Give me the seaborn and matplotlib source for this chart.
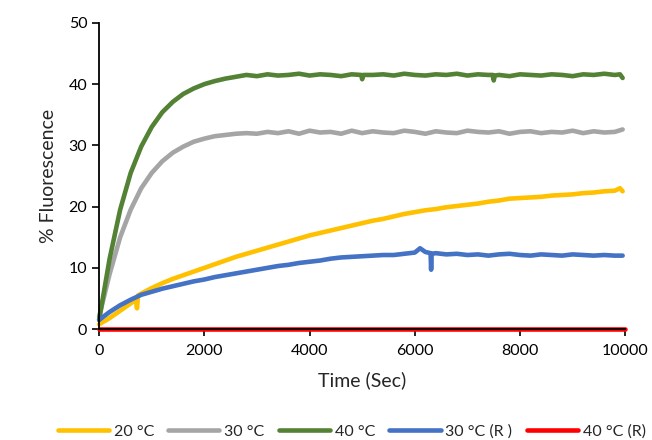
import numpy as np
import pandas as pd
import matplotlib
matplotlib.use('Agg')
import matplotlib.pyplot as plt
import seaborn as sns

# Values (time in sec, % fluorescence)
t_green = [0, 200, 400, 600, 800, 1000, 1200, 1400, 1600, 1800, 2000, 2200, 2400, 2600, 2800,
           3000, 3200, 3400, 3600, 3800, 4000, 4200, 4400, 4600, 4800, 4980, 5000, 5020, 5200,
           5400, 5600, 5800, 6000, 6200, 6400, 6600, 6800, 7000, 7200, 7400, 7480, 7500, 7520,
           7600, 7800, 8000, 8200, 8400, 8600, 8800, 9000, 9200, 9400, 9600, 9800, 9900, 9950]
f_green = [1.5, 11.5, 19.5, 25.5, 29.8, 33.0, 35.4, 37.1, 38.4, 39.3, 40.0, 40.5, 40.9, 41.2, 41.5,
           41.3, 41.6, 41.4, 41.5, 41.7, 41.4, 41.6, 41.5, 41.3, 41.6, 41.5, 40.8, 41.5, 41.5,
           41.6, 41.4, 41.7, 41.5, 41.4, 41.6, 41.5, 41.7, 41.4, 41.6, 41.5, 41.5, 40.6, 41.4,
           41.5, 41.3, 41.6, 41.5, 41.4, 41.6, 41.5, 41.3, 41.6, 41.5, 41.7, 41.5, 41.6, 41.0]

t_gray = [0, 200, 400, 600, 800, 1000, 1200, 1400, 1600, 1800, 2000, 2200, 2400, 2600, 2800,
          3000, 3200, 3400, 3600, 3800, 4000, 4200, 4400, 4600, 4800, 5000, 5200, 5400, 5600,
          5800, 6000, 6200, 6400, 6600, 6800, 7000, 7200, 7400, 7600, 7800, 8000, 8200, 8400,
          8600, 8800, 9000, 9200, 9400, 9600, 9800, 9950]
f_gray = [2.0, 9.0, 15.0, 19.5, 23.0, 25.5, 27.4, 28.8, 29.8, 30.6, 31.1, 31.5, 31.7, 31.9, 32.0,
          31.9, 32.2, 32.0, 32.3, 31.9, 32.4, 32.1, 32.2, 31.9, 32.4, 32.0, 32.3, 32.1, 32.0,
          32.4, 32.2, 31.9, 32.3, 32.1, 32.0, 32.4, 32.2, 32.1, 32.3, 31.9, 32.2, 32.3, 32.0,
          32.2, 32.1, 32.4, 32.0, 32.3, 32.1, 32.2, 32.6]

t_yellow = [0, 200, 400, 600, 700, 720, 740, 800, 1000, 1200, 1400, 1600, 1800, 2000, 2200, 2400,
            2600, 2800, 3000, 3200, 3400, 3600, 3800, 4000, 4200, 4400, 4600, 4800, 5000, 5200,
            5400, 5600, 5800, 6000, 6200, 6400, 6600, 6800, 7000, 7200, 7400, 7600, 7800, 8000,
            8200, 8400, 8600, 8800, 9000, 9200, 9400, 9600, 9800, 9900, 9950]
f_yellow = [0.8, 1.8, 3.0, 4.2, 4.8, 3.4, 5.5, 5.8, 6.7, 7.5, 8.2, 8.8, 9.4, 10.0, 10.6, 11.2,
            11.8, 12.3, 12.8, 13.3, 13.8, 14.3, 14.8, 15.3, 15.7, 16.1, 16.5, 16.9, 17.3, 17.7,
            18.0, 18.4, 18.8, 19.1, 19.4, 19.6, 19.9, 20.1, 20.3, 20.5, 20.8, 21.0, 21.3, 21.4,
            21.5, 21.6, 21.8, 21.9, 22.0, 22.2, 22.3, 22.5, 22.6, 23.0, 22.5]

t_blue = [0, 200, 400, 600, 800, 1000, 1200, 1400, 1600, 1800, 2000, 2200, 2400, 2600, 2800,
          3000, 3200, 3400, 3600, 3800, 4000, 4200, 4400, 4600, 4800, 5000, 5200, 5400, 5600,
          5800, 6000, 6100, 6200, 6300, 6310, 6320, 6400, 6600, 6800, 7000, 7200, 7400, 7600,
          7800, 8000, 8200, 8400, 8600, 8800, 9000, 9200, 9400, 9600, 9800, 9950]
f_blue = [1.5, 2.8, 3.9, 4.8, 5.6, 6.1, 6.6, 7.0, 7.4, 7.8, 8.1, 8.5, 8.8, 9.1, 9.4,
          9.7, 10.0, 10.3, 10.5, 10.8, 11.0, 11.2, 11.5, 11.7, 11.8, 11.9, 12.0, 12.1, 12.1,
          12.3, 12.5, 13.2, 12.6, 12.4, 9.7, 12.3, 12.4, 12.2, 12.3, 12.1, 12.2, 12.0, 12.2,
          12.3, 12.1, 12.0, 12.2, 12.1, 12.0, 12.2, 12.1, 12.0, 12.1, 12.0, 12.0]

t_red = [0, 10000]
f_red = [0.0, 0.0]

labels = ['20 °C', '30 °C', '40 °C', '30 °C (R )', '40 °C (R)']
colors = ['#FFC000', '#A5A5A5', '#548235', '#4472C4', '#FF0000']

series = [(t_yellow, f_yellow), (t_gray, f_gray), (t_green, f_green),
          (t_blue, f_blue), (t_red, f_red)]
frames = []
for lab, (t, f) in zip(labels, series):
    frames.append(pd.DataFrame({'Time': t, 'Fluor': f, 'Series': lab}))
df = pd.concat(frames, ignore_index=True)

sns.set_style('white')
plt.rcParams['font.family'] = ['Lato', 'DejaVu Sans']

fig = plt.figure(figsize=(6.52, 4.4), dpi=100)
ax = fig.add_axes([0.152, 0.252, 0.807, 0.696])

sns.lineplot(data=df, x='Time', y='Fluor', hue='Series', hue_order=labels,
             palette=colors, linewidth=3.3, estimator=None, sort=False, ax=ax)
for line in ax.lines:
    line.set_clip_on(False)

ax.set_xlim(0, 10000)
ax.set_ylim(0, 50)
ax.set_xticks(np.arange(0, 10001, 2000))
ax.set_yticks(np.arange(0, 51, 10))
ax.tick_params(axis='both', direction='out', length=5, width=1.2, labelsize=11.5,
               colors='black', bottom=True, left=True)
ax.tick_params(axis='x', pad=6)
for s in ['top', 'right']:
    ax.spines[s].set_visible(False)
for s in ['left', 'bottom']:
    ax.spines[s].set_color('black')
    ax.spines[s].set_linewidth(1.3)

ax.set_xlabel('Time (Sec)', fontsize=14, labelpad=9)
ax.set_ylabel('% Fluorescence', fontsize=14, labelpad=8)

ax.legend(loc='upper center', bbox_to_anchor=(0.48, -0.265), ncol=5, frameon=False,
          fontsize=11.5, handlelength=3.2, columnspacing=0.9, handletextpad=0.3)

fig.savefig('out.png', dpi=100)
